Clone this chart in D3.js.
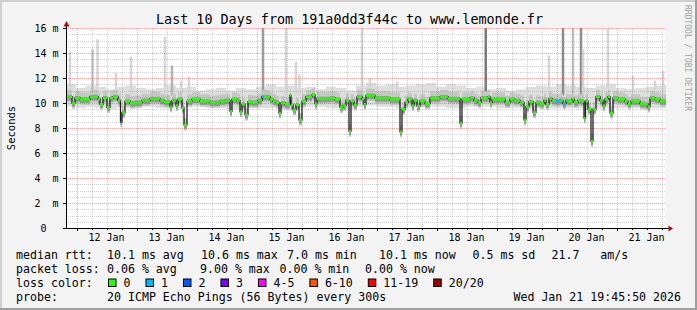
<!DOCTYPE html>
<html>
<head>
<meta charset="utf-8">
<title>smokeping</title>
<script src="https://cdn.jsdelivr.net/npm/d3@7"></script>
<style>
  * { margin: 0; padding: 0; }
  body { background: #fff; }
  svg { display: block; font-family: "DejaVu Sans Mono", monospace; }
</style>
</head>
<body>
<div id="chart"></div>
<script>
// time window (UTC, as printed on the graph)
var startTime = "2026-01-11T19:45:50Z";
var endTime = "2026-01-21T19:45:50Z";

var yTicks = [0, 2, 4, 6, 8, 10, 12, 14, 16];
var yTickLabels = [" 0", "2  m", "4  m", "6  m", "8  m", "10 m", "12 m", "14 m", "16 m"];

// median rtt steps: [hours since start, ms]
var median = [
  [0,10.5],[2.4,10.0],[3.6,10.4],[5.6,10.3],[9.6,10.5],[12.8,10.3],[13.6,9.9],[14.8,10.4],
  [16.4,9.65],[17.6,10.4],[18.8,10.5],[20.8,10.2],[21.8,8.5],[22.4,9.25],[23.6,10.15],[25.6,10.0],
  [27.6,10.05],[30.4,10.2],[33.6,10.35],[37.6,10.2],[39.2,10.1],[41.6,9.7],[42.4,10.2],[44,9.8],
  [44.8,10.3],[46.4,9.6],[47.2,8.25],[48.4,10.15],[50.4,10.3],[53.6,10.15],[57.6,10.05],[61.6,10.15],
  [63.6,10.2],[65.6,9.35],[66.4,10.3],[68.4,10.2],[69.6,9.3],[70.4,9.9],[71.6,9.05],[72.8,10.1],
  [74.4,10.05],[76.8,10.2],[78.4,10.5],[79.2,10.5],[81.6,10.3],[82.8,10.15],[84,10.05],[85.2,9.2],
  [86,10.0],[87.6,9.9],[89.6,10.6],[90,9.85],[90.8,9.45],[92,9.85],[93.2,8.65],[94.4,10.15],
  [96,10.5],[98.4,10.65],[99.6,9.95],[100.4,10.35],[105.6,10.4],[107.6,10.3],[109.6,9.65],[110.8,9.8],
  [112,10.2],[113.2,7.75],[114,10.15],[115.2,9.85],[116.4,10.5],[118.4,10.3],[119.2,9.9],[120,10.6],
  [123.6,10.4],[129.6,10.3],[133.6,7.7],[134.4,9.5],[135.6,10.05],[136.8,10.3],[138.4,9.8],[139.2,10.2],
  [140.4,9.75],[141.6,10.15],[143.6,9.95],[145.6,10.4],[149.6,10.5],[152.8,10.35],[157.6,8.4],[158.4,10.3],
  [161.6,10.4],[163.2,10.2],[164.8,10.05],[166,10.4],[168.8,10.5],[169.6,10.05],[170.4,10.3],[175.6,10.05],
  [177.6,10.3],[179.2,10.2],[181.6,10.05],[183.2,8.65],[184,9.7],[185.2,10.1],[186.8,9.25],[188,10.05],
  [189.6,9.95],[191.2,10.2],[192,9.9],[193.2,10.35],[194.4,10.2],[196,10.15],[197.6,10.2],[198.8,9.95],
  [200,10.2],[200.8,10.15],[202.4,10.3],[203.2,10.05],[204.8,10.2],[206,10.15],[207.2,8.8],[207.8,10.15],
  [208.8,9.5],[210,6.95],[210.8,9.5],[212,10.5],[213.6,10.2],[214.8,9.8],[215.6,10.3],[216.8,10.5],
  [217.6,9.2],[218.8,10.4],[220.8,10.3],[223.6,10.15],[224.8,9.95],[226,10.15],[229.6,9.95],[231.6,9.9],
  [232.8,9.7],[233.6,10.4],[235.6,10.3],[237.6,10.15]
];

// steps that lost pings: [hours since start, lost pings out of 20]
var lossPoints = [[21.8, 2], [78.4, 1], [196, 1], [198.8, 1]];

// smoke envelope, one value per 4 hours
var smokeHi = [
  11.5,11.2,11.4,11.3,11.1,11.3,11.4,11.2,11.1,11.2,11.4,11.2,11.3,11.0,11.1,11.2,11.0,11.2,11.1,11.3,
  11.5,11.3,11.4,11.2,11.3,11.1,11.3,11.2,11.0,11.4,11.6,11.4,11.5,11.3,11.4,11.5,11.6,11.3,11.5,11.4,
  11.2,11.3,11.1,11.2,11.0,11.1,11.3,11.4,11.3,11.5,11.4,11.3,11.2,11.4,11.5,11.2,11.1,11.2,11.3,11.4
];
var smokeLo = [
  9.7,9.6,9.7,9.6,9.5,9.6,9.6,9.7,9.7,9.6,9.6,9.6,9.7,9.7,9.6,9.6,9.5,9.5,9.6,9.6,
  9.6,9.5,9.5,9.6,9.7,9.7,9.6,9.6,9.5,9.7,9.8,9.7,9.7,9.6,9.6,9.7,9.7,9.7,9.6,9.6,
  9.7,9.7,9.7,9.6,9.6,9.6,9.5,9.6,9.6,9.6,9.6,9.6,9.5,9.6,9.6,9.6,9.6,9.6,9.6,9.6
];

// isolated slow pings: [hours since start, top ms, pings that high]
var spikes = [
  [1.6,14.1,1],[10.6,14.3,2],[12.6,15.1,1],[20,12.4,1],[26,13.7,1],[39.6,15.3,1],[42.4,13.0,3],
  [46,11.8,1],[49.2,12.1,1],[78.8,17,4],[88,17,1],[92,13.3,1],[93.4,12.3,1],[118.4,17,1],
  [121.6,12.0,1],[132.4,11.7,1],[167.9,17,6],[193.2,13.8,1],[198.8,17,5],[202.8,17,2],
  [206,17,5],[206.8,14.3,1],[216.8,17,1],[226.8,12.2,1],[235.6,11.8,1],[238.8,12.6,1]
];

var lossLabels = ["0", "1", "2", "3", "4-5", "6-10", "11-19", "20/20"];
var lossColors = ["#26ff00", "#00b8ff", "#0059ff", "#7e00ff", "#ff00ff", "#ff5500", "#ff0000", "#a00000"];

var rttStats = ["10.1 ms avg", "10.6 ms max", "7.0 ms min", "10.1 ms now", "0.5 ms sd", "21.7   am/s"];
var lossStats = ["0.06 % avg", "9.00 % max", "0.00 % min", "0.00 % now"];
var probeText = "20 ICMP Echo Pings (56 Bytes) every 300s";
var stampText = "Wed Jan 21 19:45:50 2026";
var titleText = "Last 10 Days from 191a0dd3f44c to www.lemonde.fr";

(function() {
  var W = 697, H = 310;
  var left = 66, right = 666, top = 28, bot = 228;

  var t0 = new Date(startTime), t1 = new Date(endTime);
  var at = function(h) { return new Date(t0.getTime() + h * 3600e3); };

  var x = d3.scaleUtc().domain([t0, t1]).range([left, right]);
  var y = d3.scaleLinear().domain([0, 16]).range([bot, top]);

  var svg = d3.select('#chart').append('svg')
      .attr('width', W).attr('height', H);

  // frame
  svg.append('rect').attr('width', W).attr('height', H).attr('fill', '#f3f3f3');
  svg.append('path').attr('d', 'M1,' + H + 'V1H' + W).attr('stroke', '#cfcfcf')
      .attr('stroke-width', 2).attr('fill', 'none');
  svg.append('path').attr('d', 'M0,' + (H - 1) + 'H' + (W - 1) + 'V0').attr('stroke', '#9e9e9e')
      .attr('stroke-width', 2).attr('fill', 'none');

  svg.append('rect').attr('x', left).attr('y', top)
      .attr('width', right - left).attr('height', bot - top).attr('fill', '#fff');

  var plot = svg.append('g');
  svg.append('clipPath').attr('id', 'clip').append('rect')
      .attr('x', left).attr('y', top).attr('width', right - left).attr('height', bot - top);
  plot.attr('clip-path', 'url(#clip)');

  // smoke envelope
  var env = smokeHi.map(function(v, i) { return {h: i * 4, hi: v, lo: smokeLo[i]}; });
  env.push({h: 240, hi: smokeHi[smokeHi.length - 1], lo: smokeLo[smokeLo.length - 1]});
  plot.append('path').datum(env)
      .attr('d', d3.area().curve(d3.curveStepAfter)
        .x(function(d) { return x(at(d.h)); })
        .y0(function(d) { return y(d.lo); })
        .y1(function(d) { return y(d.hi); }))
      .attr('fill', '#dedede');

  var shade = function(n) {
    return n >= 6 ? '#7a7a7a' : n >= 5 ? '#8c8c8c' : n >= 4 ? '#9c9c9c' : n >= 3 ? '#b4b4b4' : n >= 2 ? '#c4c4c4' : '#d6d6d6';
  };
  plot.selectAll('rect.spike').data(spikes)
    .enter().append('rect')
      .attr('class', 'spike')
      .attr('x', function(d) { return x(at(d[0] - 0.5)); })
      .attr('width', function(d) { return x(at(d[0] + 0.5)) - x(at(d[0] - 0.5)); })
      .attr('y', function(d) { return y(d[1]); })
      .attr('height', function(d) { return y(10.6) - y(d[1]); })
      .attr('fill', function(d) { return shade(d[2]); });

  // steps with their end hour
  var steps = median.map(function(d, i) {
    var end = i < median.length - 1 ? median[i + 1][0] : 240;
    var lost = 0;
    lossPoints.forEach(function(l) { if (l[0] === d[0]) lost = l[1]; });
    return {h0: d[0], h1: end, v: d[1], loss: lost};
  });

  // smoke around each median step
  plot.selectAll('rect.mid').data(steps)
    .enter().append('rect')
      .attr('x', function(d) { return x(at(d.h0)); })
      .attr('width', function(d) { return x(at(d.h1)) - x(at(d.h0)); })
      .attr('y', function(d) { return y(d.v + 0.55); })
      .attr('height', function(d) { return y(d.v - 0.45) - y(d.v + 0.55); })
      .attr('fill', '#c6c6c6');
  plot.selectAll('rect.core').data(steps)
    .enter().append('rect')
      .attr('x', function(d) { return x(at(d.h0)); })
      .attr('width', function(d) { return x(at(d.h1)) - x(at(d.h0)); })
      .attr('y', function(d) { return y(d.v + 0.15); })
      .attr('height', function(d) { return y(d.v - 0.3) - y(d.v + 0.15); })
      .attr('fill', '#969696');

  // grid
  var grid = svg.append('g');
  var yMinor = d3.range(0, 16.01, 0.5).filter(function(v) { return v % 2 !== 0; });
  grid.selectAll('line.ym').data(yMinor).enter().append('line')
      .attr('x1', left).attr('x2', right)
      .attr('y1', function(d) { return Math.round(y(d)) + 0.5; })
      .attr('y2', function(d) { return Math.round(y(d)) + 0.5; })
      .attr('stroke', 'rgba(150,150,150,0.45)').attr('stroke-dasharray', '1,1');
  var xMinor = d3.utcHour.every(6).range(t0, t1).filter(function(d) { return d.getUTCHours() !== 0; });
  grid.selectAll('line.xm').data(xMinor).enter().append('line')
      .attr('x1', function(d) { return Math.round(x(d)) + 0.5; })
      .attr('x2', function(d) { return Math.round(x(d)) + 0.5; })
      .attr('y1', top).attr('y2', bot)
      .attr('stroke', 'rgba(150,150,150,0.45)').attr('stroke-dasharray', '1,1');
  grid.selectAll('line.yM').data(yTicks.slice(1)).enter().append('line')
      .attr('x1', left).attr('x2', right)
      .attr('y1', function(d) { return Math.round(y(d)) + 0.5; })
      .attr('y2', function(d) { return Math.round(y(d)) + 0.5; })
      .attr('stroke', 'rgba(255,60,60,0.45)').attr('stroke-dasharray', '1,1');
  var days = d3.utcDay.range(t0, t1);
  grid.selectAll('line.xM').data(days).enter().append('line')
      .attr('x1', function(d) { return Math.round(x(d)) + 0.5; })
      .attr('x2', function(d) { return Math.round(x(d)) + 0.5; })
      .attr('y1', top).attr('y2', bot)
      .attr('stroke', 'rgba(255,60,60,0.45)').attr('stroke-dasharray', '1,1');

  // median line and loss colored markers
  var medPts = median.concat([[240, median[median.length - 1][1]]]);
  var med = svg.append('g').attr('clip-path', 'url(#clip)');
  med.append('path').datum(medPts)
      .attr('d', d3.line().curve(d3.curveStepAfter)
        .x(function(d) { return x(at(d[0])); })
        .y(function(d) { return y(d[1]); }))
      .attr('fill', 'none').attr('stroke', '#202020').attr('stroke-width', 1.3);
  var lossIdx = function(n) { return n <= 3 ? n : n <= 5 ? 4 : n <= 10 ? 5 : n <= 19 ? 6 : 7; };
  med.selectAll('rect.loss').data(steps)
    .enter().append('rect')
      .attr('x', function(d) { return x(at(d.h0)); })
      .attr('width', function(d) { return x(at(d.h1)) - x(at(d.h0)); })
      .attr('y', function(d) { return y(d.v) - 1.25; })
      .attr('height', 2.5)
      .attr('fill', function(d) { return lossColors[lossIdx(d.loss)]; });

  // axes
  var ax = svg.append('g').attr('stroke', '#000').attr('shape-rendering', 'crispEdges');
  ax.append('line').attr('x1', left + 0.5).attr('x2', left + 0.5).attr('y1', bot).attr('y2', top - 3);
  ax.append('line').attr('x1', left).attr('x2', right + 4).attr('y1', bot + 0.5).attr('y2', bot + 0.5);
  ax.selectAll('line.yt').data(yTicks).enter().append('line')
      .attr('x1', left - 3).attr('x2', left)
      .attr('y1', function(d) { return Math.round(y(d)) + 0.5; })
      .attr('y2', function(d) { return Math.round(y(d)) + 0.5; });
  ax.selectAll('line.xt').data(days).enter().append('line')
      .attr('x1', function(d) { return Math.round(x(d)) + 0.5; })
      .attr('x2', function(d) { return Math.round(x(d)) + 0.5; })
      .attr('y1', bot).attr('y2', bot + 3);
  ax.selectAll('line.xmt').data(xMinor).enter().append('line')
      .attr('x1', function(d) { return Math.round(x(d)) + 0.5; })
      .attr('x2', function(d) { return Math.round(x(d)) + 0.5; })
      .attr('y1', bot).attr('y2', bot + 2);
  svg.append('path').attr('d', 'M' + (left + 0.5) + ',' + (top - 7) + 'L' + (left + 3.5) + ',' + (top - 1.5) + 'L' + (left - 2.5) + ',' + (top - 1.5) + 'Z')
      .attr('fill', '#a01010');
  svg.append('path').attr('d', 'M' + (right + 7) + ',' + (bot + 0.5) + 'L' + (right + 2.5) + ',' + (bot - 2.5) + 'L' + (right + 2.5) + ',' + (bot + 3.5) + 'Z')
      .attr('fill', '#a01010');

  // labels
  svg.selectAll('text.yl').data(yTicks).enter().append('text')
      .attr('x', 34.5).attr('y', function(d) { return y(d) + 3.5; })
      .attr('font-size', '10px').attr('xml:space', 'preserve')
      .style('white-space', 'pre')
      .text(function(d, i) { return yTickLabels[i]; });
  var fmt = d3.utcFormat('%d %b');
  svg.selectAll('text.xl').data(days).enter().append('text')
      .attr('x', function(d) { return x(d3.utcHour.offset(d, 12)); })
      .attr('y', 240.5).attr('text-anchor', 'middle').attr('font-size', '10px')
      .text(function(d) { return fmt(d); });

  svg.append('text').attr('x', 349.5).attr('y', 23.5).attr('text-anchor', 'middle')
      .attr('font-size', '13.4px').text(titleText);
  svg.append('text').attr('transform', 'translate(15,128) rotate(-90)')
      .attr('text-anchor', 'middle').attr('font-size', '10.5px').text('Seconds');
  svg.append('text').attr('transform', 'translate(684.5,5) rotate(90)')
      .attr('font-size', '8px').attr('fill', '#a0a0a0').text('RRDTOOL / TOBI OETIKER');

  // legend
  var lg = svg.append('g').attr('font-size', '11.6px').style('white-space', 'pre');
  var rows = [258.5, 272.5, 286.5, 300.5];
  lg.append('text').attr('x', 16).attr('y', rows[0]).text('median rtt:');
  var rttX = [107, 201, 287, 379, 472.5, 551.5];
  rttStats.forEach(function(s, i) {
    lg.append('text').attr('x', rttX[i]).attr('y', rows[0]).attr('xml:space', 'preserve').text(s);
  });
  lg.append('text').attr('x', 16).attr('y', rows[1]).text('packet loss:');
  var lossX = [107, 200, 279.5, 365];
  lossStats.forEach(function(s, i) {
    lg.append('text').attr('x', lossX[i]).attr('y', rows[1]).text(s);
  });
  lg.append('text').attr('x', 16).attr('y', rows[2]).text('loss color:');
  var bx = 108.5;
  lossLabels.forEach(function(s, i) {
    lg.append('rect').attr('x', bx).attr('y', rows[2] - 7.5).attr('width', 7.5).attr('height', 7.5)
        .attr('fill', lossColors[i]).attr('stroke', '#000').attr('stroke-width', 1);
    var t = lg.append('text').attr('x', bx + 15).attr('y', rows[2]).text(s);
    bx = bx + 15 + t.node().getComputedTextLength() + 15.5;
  });
  lg.append('text').attr('x', 16).attr('y', rows[3]).text('probe:');
  lg.append('text').attr('x', 107).attr('y', rows[3]).text(probeText);
  lg.append('text').attr('x', 681).attr('y', rows[3]).attr('text-anchor', 'end').text(stampText);
})();
</script>
</body>
</html>
